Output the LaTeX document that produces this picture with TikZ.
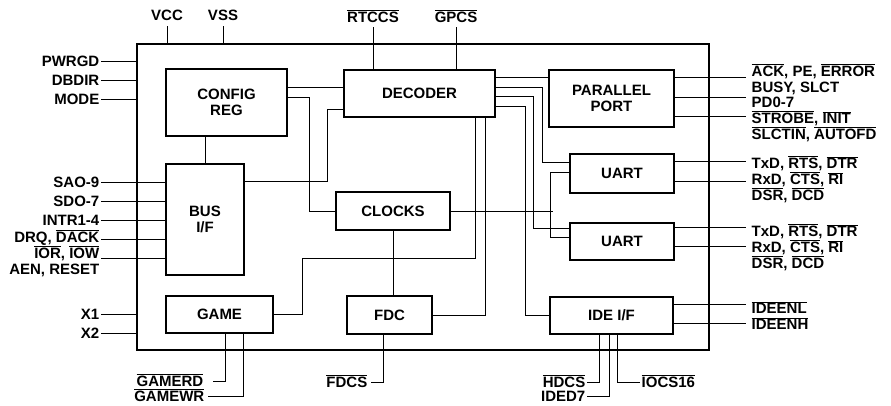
\documentclass[tikz,border=0pt]{standalone}
\usepackage{fontspec}
\setmainfont{Liberation Sans}
\usetikzlibrary{calc}
\newcommand{\pinfont}{\fontsize{15}{16}\selectfont\bfseries}
\newcommand{\nbar}[1]{$\overline{\mbox{#1}}$}

\begin{document}
\begin{tikzpicture}[x=1pt,y=-1pt,
  chip/.style={draw,line width=2.6pt,minimum width=572pt,minimum height=306pt},
  block/.style={draw,line width=2.2pt,inner sep=0pt,align=center,font=\pinfont},
  pin/.style={inner sep=1.5pt,font=\pinfont,text height=11pt,text depth=0pt},
  wire/.style={line width=0.9pt}
  ]
\useasboundingbox (0,0) rectangle (891,405);

% Chip outline
\node[chip] (chip) at (423,197) {};

% Function blocks
\node[block,minimum width=121pt,minimum height=67pt] (cfg) at (226.5,102.5) {CONFIG\\REG};
\node[block,minimum width=78pt,minimum height=111pt] (bus) at (205,219.5) {BUS\\I/F};
\node[block,minimum width=107pt,minimum height=37pt] (game) at (219.5,314.5) {GAME};
\node[block,minimum width=151pt,minimum height=47pt] (dec) at (419.5,93.5) {DECODER};
\node[block,minimum width=114pt,minimum height=38pt] (clk) at (393,211) {CLOCKS};
\node[block,minimum width=85pt,minimum height=38pt] (fdc) at (389.5,315) {FDC};
\node[block,minimum width=125pt,minimum height=57pt] (par) at (611.5,98.5) {PARALLEL\\PORT};
\node[block,minimum width=104pt,minimum height=39pt] (uartA) at (622,173.5) {UART};
\node[block,minimum width=104pt,minimum height=37pt] (uartB) at (622,241.5) {UART};
\node[block,minimum width=123pt,minimum height=37pt] (ide) at (611.5,315.5) {IDE I/F};

% Top pins
\node[pin] (vcc) at (167,15) {VCC};
\node[pin] (vss) at (223,15) {VSS};
\node[pin] (rtccs) at (373,17) {\nbar{RTCCS}};
\node[pin] (gpcs) at (456,17) {\nbar{GPCS}};
\draw[wire] ([yshift=-4pt]vcc.south) -- (vcc.south |- chip.north);
\draw[wire] ([yshift=-4pt]vss.south) -- (vss.south |- chip.north);
\draw[wire] ([yshift=-3pt]rtccs.south) -- (rtccs.south |- dec.north);
\draw[wire] ([yshift=-3pt]gpcs.south) -- (gpcs.south |- dec.north);

% Left pins
\node[pin,anchor=east] (pwrgd) at (101,61) {PWRGD};
\node[pin,anchor=east] (dbdir) at (101,80) {DBDIR};
\node[pin,anchor=east] (mode) at (101,99) {MODE};
\foreach \p in {pwrgd,dbdir,mode}
  \draw[wire] (\p.east) -- (\p.east -| chip.west);

\node[pin,anchor=east] (sa) at (101,182) {SAO-9};
\node[pin,anchor=east] (sd) at (101,201) {SDO-7};
\node[pin,anchor=east] (intr) at (101,220) {INTR1-4};
\node[pin,anchor=east] (drq) at (101,237) {DRQ, \nbar{DACK}};
\node[pin,anchor=east] (iorw) at (101,253) {\nbar{IOR}, \nbar{IOW}};
\node[pin,anchor=east] (aen) at (101,269) {AEN, RESET};
\foreach \p in {sa,sd,intr}
  \draw[wire] (\p.east) -- (\p.east -| bus.west);
\coordinate (drqP) at ([yshift=-2pt]drq.east);
\coordinate (iorwP) at ([yshift=-5pt]iorw.east);
\draw[wire] (drqP) -- (drqP -| bus.west);
\draw[wire] (iorwP) -- (iorwP -| bus.west);

\node[pin,anchor=east] (xa) at (101,314) {X1};
\node[pin,anchor=east] (xb) at (101,333) {X2};
\foreach \p in {xa,xb}
  \draw[wire] (\p.east) -- (\p.east -| chip.west);

% Internal wiring
\draw[wire] (bus.north) -- (bus.north |- cfg.south);
\draw[wire] ($(cfg.north east)+(0,20)$) -- ($(dec.north west)+(0,19)$);
\draw[wire] ($(cfg.north east)+(0,30)$) -- ++(21,0) |- (clk.west);
\draw[wire] ($(bus.north east)+(0,19)$) -- ++(82,0) |- ($(dec.south west)+(0,-9)$);
\draw[wire] ($(dec.north east)+(0,9)$) -- ($(par.north west)+(0,9)$);
\draw[wire] ($(dec.north east)+(0,19)$) -- ++(46,0) |- ($(uartA.north west)+(0,10)$);
\draw[wire] ($(dec.north east)+(0,28)$) -- ++(37,0) |- ($(uartB.north west)+(0,7)$);
\draw[wire] ($(dec.north east)+(0,38)$) -- ++(29,0) |- (ide.west);
\draw[wire] ($(uartA.north west)+(0,20)$) -- ++(-18,0) coordinate (cj) |- ($(uartB.north west)+(0,16)$);
\draw[wire] (clk.east) -- ++(102,0);
\draw[wire] (clk.south) -- (clk.south |- fdc.north);
\draw[wire] (game.east) -| ++(28,-56.5) -| ($(dec.south west)+(133,0)$);
\draw[wire] (fdc.east) -| ($(dec.south west)+(143,0)$);

% Bottom pins
\node[pin,anchor=east] (gamerd) at (205,381) {\nbar{GAMERD}};
\node[pin,anchor=east] (gamewr) at (206,396) {\nbar{GAMEWR}};
\draw[wire] ([xshift=8pt]gamerd.east) -| ($(game.south west)+(61,0)$);
\draw[wire] ([xshift=2pt]gamewr.east) -| ($(game.south west)+(79,0)$);

\node[pin,anchor=east] (fdcs) at (369,382) {\nbar{FDCS}};
\draw[wire] ([xshift=2pt]fdcs.east) -| ($(fdc.south west)+(38,0)$);

\node[pin,anchor=east] (hdcs) at (587,382) {\nbar{HDCS}};
\node[pin,anchor=east] (ided) at (587,396) {IDED7};
\node[pin,anchor=west] (iocs) at (640,382) {\nbar{IOCS16}};
\draw[wire] (hdcs.east) -| ($(ide.south west)+(51,0)$);
\draw[wire] (ided.east) -| ($(ide.south west)+(61,0)$);
\draw[wire] (iocs.west) -| ($(ide.south west)+(69,0)$);

% Right pins
\foreach \dy in {9,29,48}
  \draw[wire] ($(par.north east)+(0,\dy)$) -- ++(71,0);
\node[pin,anchor=west] (ack) at (750,71) {\nbar{ACK}, PE, \nbar{ERROR}};
\node[pin,anchor=west] (busy) at (750,86.5) {BUSY, SLCT};
\node[pin,anchor=west] (pd) at (750,102) {PD0-7};
\node[pin,anchor=west] (strobe) at (750,118) {\nbar{STROBE}, \nbar{INIT}};
\node[pin,anchor=west] (slctin) at (750,133.5) {\nbar{SLCTIN}, \nbar{AUTOFD}};

\foreach \dy in {9,29}
  \draw[wire] ($(uartA.north east)+(0,\dy)$) -- ++(71,0);
\node[pin,anchor=west] (txA) at (750,163) {TxD, \nbar{RTS}, \nbar{DTR}};
\node[pin,anchor=west] (rxA) at (750,179) {RxD, \nbar{CTS}, \nbar{RI}};
\node[pin,anchor=west] (dsA) at (750,194.5) {\nbar{DSR}, \nbar{DCD}};

\foreach \dy in {6,25}
  \draw[wire] ($(uartB.north east)+(0,\dy)$) -- ++(71,0);
\node[pin,anchor=west] (txB) at (750,231) {TxD, \nbar{RTS}, \nbar{DTR}};
\node[pin,anchor=west] (rxB) at (750,247) {RxD, \nbar{CTS}, \nbar{RI}};
\node[pin,anchor=west] (dsB) at (750,262.5) {\nbar{DSR}, \nbar{DCD}};

\foreach \dy in {9,28}
  \draw[wire] ($(ide.north east)+(0,\dy)$) -- ++(72,0);
\node[pin,anchor=west] (ideL) at (750,308) {\nbar{IDEENL}};
\node[pin,anchor=west] (ideH) at (750,324) {\nbar{IDEENH}};

\end{tikzpicture}
\end{document}
